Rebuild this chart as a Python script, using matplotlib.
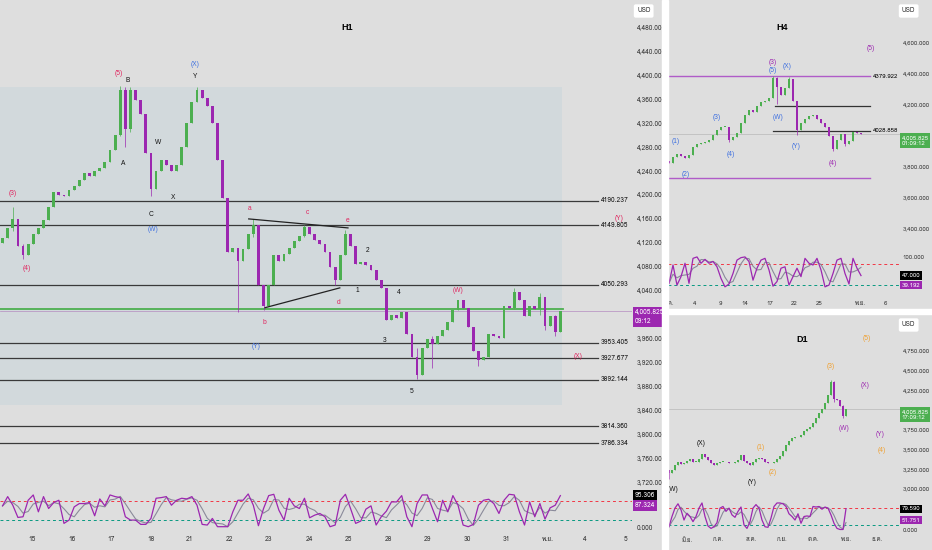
import numpy as np
import pandas as pd
import matplotlib.pyplot as plt
import matplotlib.transforms as mtransforms
from matplotlib import font_manager
from matplotlib.ft2font import FT2Font
from matplotlib.patches import Rectangle


def find_family(ch):
    # first installed family that has a glyph for ch
    for f in font_manager.fontManager.ttflist:
        try:
            if FT2Font(f.fname).get_char_index(ord(ch)):
                return f.name
        except Exception:
            pass
    return None


THAI = find_family('ก')
NARROW = ['Liberation Sans Narrow'] + ([THAI] if THAI else []) + ['DejaVu Sans']
REGULAR = ['Liberation Sans'] + ([THAI] if THAI else []) + ['DejaVu Sans']
plt.rcParams['font.family'] = NARROW

# ---------------- data ----------------
# H1 closes (open = previous close)
H1_OPEN0 = 4120
H1_CLOSE = [4128, 4145, 4160, 4115, 4100, 4118, 4135, 4145, 4158, 4180,
            4205, 4200, 4198, 4208, 4215, 4225, 4236, 4232, 4240, 4245,
            4255, 4275, 4300, 4375, 4310, 4375, 4358, 4335, 4270, 4210,
            4240, 4258, 4250, 4240, 4250, 4280, 4320, 4355, 4375, 4362,
            4348, 4320, 4258, 4195, 4105, 4112, 4090, 4110, 4135, 4150,
            4050, 4015, 4050, 4100, 4090, 4102, 4112, 4124, 4132, 4146,
            4135, 4125, 4118, 4105, 4080, 4058, 4100, 4135, 4115, 4085,
            4088, 4083, 4075, 4058, 4045, 3992, 4000, 3995, 4005, 3968,
            3930, 3900, 3945, 3960, 3952, 3965, 3975, 3988, 4008, 4025,
            4012, 3980, 3940, 3925, 3930, 3968, 3965, 3962, 4015, 4012,
            4038, 4025, 3998, 4015, 4010, 4030, 3982, 3998, 3972, 4006]
H1_WICKS = [(2, 4140, 4180), (4, 4093, 4118), (23, 4298, 4382), (24, 4280, 4380),
            (25, 4305, 4380), (29, 4198, 4270), (38, 4355, 4380), (46, 4005, 4112),
            (49, 4130, 4160), (51, 4008, 4050), (59, 4130, 4150), (65, 4050, 4080),
            (67, 4100, 4142), (81, 3893, 3945), (84, 3912, 3965), (93, 3915, 3940),
            (100, 4010, 4045), (105, 4000, 4036), (106, 3975, 4030), (108, 3965, 4000)]
H1_K = [64, 92, 66, 29, 31, 81, 97, 46, 92, 56,
        74, 81, 11, 21, 61, 71, 71, 74, 34, 85,
        64, 97, 92, 89, 31, 21, 21, 8, 8, 26,
        87, 89, 92, 66, 81, 87, 85, 92, 66, 8,
        6, 26, 1, 1, 1, 46, 81, 81, 100, 66,
        4, 56, 95, 99, 51, 21, 87, 64, 56, 87,
        28, 36, 41, 31, 1, 6, 81, 99, 56, 11,
        18, 54, 64, 6, 31, 48, 76, 76, 95, 31,
        1, 71, 97, 97, 56, 16, 81, 46, 95, 66,
        6, 1, 8, 66, 81, 84, 71, 41, 81, 99,
        97, 46, 6, 76, 31, 71, 24, 58, 66, 95]
H1_DAY_POS = [5.76, 13.57, 21.19, 29.0, 36.6, 44.4, 52.05, 59.9, 67.7,
              75.5, 83.1, 90.9, 98.5, 106.5, 113.8, 121.8]
H1_DAY_LBL = ['15', '16', '17', '18', '21', '22', '23', '24', '25',
              '28', '29', '30', '31', 'พ.ย.', '4', '5']
H1_PRICE_TICKS = [3720, 3760, 3800, 3840, 3880, 3920, 3960, 4040, 4080, 4120,
                  4160, 4200, 4240, 4280, 4320, 4360, 4400, 4440, 4480]
H1_LEVELS = [4190.237, 4149.805, 4050.293, 3953.405, 3927.677, 3892.144, 3814.360, 3786.334]
H1_WAVES = [(1.9, 4202, '(3)', 'r'), (4.7, 4077, '(4)', 'r'), (22.8, 4403, '(5)', 'r'),
            (24.5, 4390, 'B', 'k'), (23.5, 4253, 'A', 'k'), (30.4, 4287, 'W', 'k'),
            (29.0, 4168, 'C', 'k'), (29.4, 4143, '(W)', 'b'), (33.3, 4195, 'X', 'k'),
            (37.6, 4398, 'Y', 'k'), (37.6, 4418, '(X)', 'b'), (48.3, 4178, 'a', 'r'),
            (51.1, 3987, 'b', 'r'), (59.5, 4170, 'c', 'r'), (65.7, 4020, 'd', 'r'),
            (67.5, 4157, 'e', 'r'), (71.4, 4107, '2', 'k'), (69.4, 4040, '1', 'k'),
            (77.4, 4037, '4', 'k'), (74.7, 3958, '3', 'k'), (80.0, 3873, '5', 'k'),
            (49.5, 3947, '(Y)', 'b'), (89.0, 4040, '(W)', 'r'), (112.4, 3930, '(X)', 'r'),
            (120.4, 4160, '(Y)', 'r')]

# H4
H4_OPEN0 = 3830
H4_CLOSE = [3817, 3860, 3875, 3862, 3852, 3870, 3925, 3940, 3946, 3955,
            3965, 4000, 4030, 4050, 4054, 3968, 3985, 4010, 4080, 4130,
            4160, 4151, 4185, 4210, 4220, 4240, 4370, 4310, 4255, 4300,
            4362, 4220, 4030, 4080, 4105, 4120, 4128, 4100, 4080, 4050,
            3995, 3910, 3965, 4005, 3940, 3960, 4020, 4012, 4005]
H4_WICKS = [(15, 3955, 4054), (26, 4240, 4382), (27, 4200, 4372), (30, 4300, 4375),
            (32, 4000, 4220), (41, 3895, 3995), (44, 3930, 4005)]
H4_K = [25, 77, 20, 44, 82, 25, 96, 100, 82, 93,
        82, 87, 72, 39, 15, 23, 53, 91, 98, 100,
        87, 34, 68, 91, 96, 63, 17, 30, 68, 72,
        20, 44, 68, 44, 96, 82, 77, 96, 63, 15,
        20, 53, 91, 96, 53, 23, 96, 68, 47]
H4_DAY_POS = [-0.25, 6.5, 12.75, 19.0, 25.25, 31.25, 37.5, 47.75, 54.0]
H4_DAY_LBL = ['ต.ค.', '4', '9', '14', '17', '22', '25', 'พ.ย.', '6']
H4_WAVES = [(1.75, 3961, '(1)', 'b'), (4.25, 3742, '(2)', 'b'), (12.0, 4116, '(3)', 'b'),
            (15.5, 3871, '(4)', 'b'), (26.0, 4413, '(5)', 'b'), (29.5, 4445, '(X)', 'b'),
            (27.25, 4116, '(W)', 'b'), (31.75, 3929, '(Y)', 'b'), (26.0, 4465, '(3)', 'p'),
            (41.0, 3813, '(4)', 'p'), (50.5, 4555, '(5)', 'p')]

# D1
D1_OPEN0 = 3240
D1_CLOSE = [3193, 3235, 3298, 3340, 3311, 3327, 3352, 3370, 3340, 3340,
            3370, 3438, 3404, 3362, 3327, 3298, 3319, 3336, 3340, 3332,
            3319, 3327, 3340, 3362, 3421, 3352, 3319, 3298, 3340, 3375,
            3383, 3379, 3340, 3327, 3319, 3336, 3370, 3412, 3480, 3552,
            3602, 3637, 3650, 3658, 3675, 3725, 3755, 3785, 3827, 3890,
            3962, 4005, 4081, 4183, 4355, 4140, 4120, 4050, 3920, 4005]
D1_WICKS = [(0, 3120, 3240), (54, 4180, 4380), (55, 4100, 4360), (58, 3900, 4060)]
D1_K = [12, 50, 81, 97, 75, 37, 62, 50, 31, 50,
        81, 100, 50, 15, 6, 12, 27, 81, 87, 69,
        81, 56, 47, 69, 85, 19, 6, 31, 81, 94,
        81, 37, 12, 10, 44, 87, 100, 100, 97, 87,
        60, 50, 37, 60, 25, 50, 52, 50, 87, 85,
        87, 77, 85, 81, 56, 25, 6, 2, 2, 79]
D1_MON_POS = [6.0, 16.33, 27.33, 37.67, 48.0, 59.0, 69.33]
D1_MON_LBL = ['มิ.ย.', 'ก.ค.', 'ส.ค.', 'ก.ย.', 'ต.ค.', 'พ.ย.', 'ธ.ค.']
D1_WAVES = [(1.33, 2981, '(W)', 'k'), (10.67, 3577, '(X)', 'k'), (27.67, 3070, '(Y)', 'k'),
            (30.67, 3514, '(1)', 'o'), (34.67, 3197, '(2)', 'o'), (54.0, 4542, '(3)', 'o'),
            (66.0, 4897, '(5)', 'o'), (71.0, 3476, '(4)', 'o'), (65.33, 4301, '(X)', 'p'),
            (58.33, 3755, '(W)', 'p'), (70.33, 3679, '(Y)', 'p')]

LAST = 4005.825

# ---------------- style ----------------
BG = '#dedede'
GREEN = '#4caf50'
PURPLE = '#9c27b0'
WAVE_COL = {'r': '#e0245e', 'b': '#3d6fe0', 'k': '#111111', 'p': '#9c27b0', 'o': '#f0a030'}
FS = 4.8      # main panel axis text
FS_R = 4.4    # right-hand panels axis text

W, H = 932, 550
fig = plt.figure(figsize=(W / 100, H / 100), dpi=100)
fig.patch.set_facecolor('white')


def px_axes(x0, y0, x1, y1):
    a = fig.add_axes([x0 / W, 1 - y1 / H, (x1 - x0) / W, (y1 - y0) / H])
    a.set_facecolor('none')
    for s in a.spines.values():
        s.set_visible(False)
    return a


def ftext(x, y, s, **kw):
    return fig.text(x / W, 1 - y / H, s, **kw)


def panel_bg(x0, y0, x1, y1):
    fig.add_artist(Rectangle((x0 / W, 1 - y1 / H), (x1 - x0) / W, (y1 - y0) / H,
                             transform=fig.transFigure, color=BG, zorder=0))


def draw_candles(ax, closes, open0, wicks, width):
    c = np.array(closes, float)
    o = np.r_[open0, c[:-1]]
    x = np.arange(len(c))
    cols = np.where(c >= o, GREEN, PURPLE)
    lo = np.minimum(o, c)
    hi = np.maximum(o, c)
    wl, wh = lo.copy(), hi.copy()
    for i, l, h in wicks:
        wl[i] = min(wl[i], l)
        wh[i] = max(wh[i], h)
    ax.vlines(x, wl, wh, colors=cols, lw=0.5, zorder=3)
    span = ax.get_ylim()[1] - ax.get_ylim()[0]
    ax.bar(x, np.maximum(hi - lo, span * 0.003), bottom=lo, width=width,
           color=cols, lw=0, zorder=3)


def price_axis(ax, ticks, fs, pad):
    ax.yaxis.tick_right()
    ax.set_yticks(ticks)
    ax.set_yticklabels([f'{t:,.3f}' for t in ticks])
    ax.tick_params(axis='y', length=0, labelsize=fs, pad=pad, colors='#333333')
    ax.set_xticks([])


def axis_tag(ax, y, s, fc, fs, dx=2.5):
    tr = mtransforms.blended_transform_factory(ax.transAxes, ax.transData)
    x = 1 + dx / (ax.get_position().width * W)
    ax.text(x, y, s, transform=tr, ha='left', va='center', fontsize=fs, color='white',
            linespacing=1.35, clip_on=False, zorder=20,
            bbox=dict(boxstyle='square,pad=0.3', fc=fc, ec='none'))


def osc(ax, k, xlim, ylim, ticks, fs, pad):
    k = np.clip(np.array(k, float), 0, 100)
    d = pd.Series(k).rolling(3, min_periods=1).mean().to_numpy()
    x = np.arange(len(k))
    ax.set_xlim(*xlim)
    ax.set_ylim(*ylim)
    ax.axhline(80, color='#f23645', lw=0.7, ls=(0, (3, 3)))
    ax.axhline(20, color='#089981', lw=0.7, ls=(0, (3, 3)))
    ax.plot(x, d, color='#8a8a9a', lw=0.8)
    ax.plot(x, k, color=PURPLE, lw=0.9)
    ax.yaxis.tick_right()
    ax.set_yticks(ticks)
    ax.set_yticklabels([f'{t:.3f}' for t in ticks])
    ax.tick_params(axis='y', length=0, labelsize=fs, pad=pad, colors='#333333')


def waves(ax, items):
    for x, y, s, c in items:
        ax.text(x, y, s, color=WAVE_COL[c], fontsize=4.8, ha='center', va='center',
                family=REGULAR, zorder=6)


def usd_box(x, y):
    ftext(x, y, 'USD', fontsize=4.6, color='#333333', ha='left', va='center', zorder=30,
          bbox=dict(boxstyle='round,pad=0.5,rounding_size=0.3', fc='white', ec='none'))


panel_bg(0, 0, 662, 550)
panel_bg(668, 0, 932, 309)
panel_bg(668, 314, 932, 550)

# ---------------- H1 ----------------
ax1 = px_axes(0, 0, 632, 490)
ax1.set_xlim(-0.5, 123.0)
ax1.set_ylim(3708, 4525)
price_axis(ax1, H1_PRICE_TICKS, FS, 3.5)
ax1.add_patch(Rectangle((-0.5, 3850), 109.8, 530, color='#d2d9dc', lw=0, zorder=1))
for lv in H1_LEVELS:
    ax1.plot([-0.5, 116.3], [lv, lv], color='#3a3a3a', lw=0.9, zorder=2)
    ax1.text(116.9, lv, f'{lv:.3f}', fontsize=FS, ha='left', va='center', color='#111111')
ax1.plot([-0.5, 109.6], [4010, 4010], color=GREEN, lw=1.3, zorder=2)
ax1.axhline(LAST, color='#b58cc0', lw=0.5, zorder=2)
ax1.plot([48.1, 67.5], [4160, 4145], color='#222222', lw=0.9, zorder=4)
ax1.plot([51.3, 65.9], [4012, 4045], color='#222222', lw=0.9, zorder=4)
draw_candles(ax1, H1_CLOSE, H1_OPEN0, H1_WICKS, 0.55)
waves(ax1, H1_WAVES)
axis_tag(ax1, 3997, '4,005.825\n09:12', PURPLE, FS, dx=3)

o1 = px_axes(0, 490, 632, 530)
osc(o1, H1_K, (-0.5, 123.0), (-9, 112), [0], FS, 3.5)
o1.set_xticks(H1_DAY_POS)
o1.set_xticklabels(H1_DAY_LBL)
o1.tick_params(axis='x', length=0, labelsize=FS, pad=4, colors='#333333')
axis_tag(o1, 94, '95.306', 'black', FS, dx=3)
axis_tag(o1, 64, '87.324', PURPLE, FS, dx=3)
ftext(347, 28, 'H1', fontsize=6.5, fontweight='bold', ha='center', va='center', family=REGULAR)
usd_box(637, 11)

# ---------------- H4 ----------------
ax2 = px_axes(668, 0, 900, 250)
ax2.set_xlim(-0.25, 57.75)
ax2.set_ylim(3258, 4871)
price_axis(ax2, [3400, 3600, 3800, 4200, 4400, 4600], FS_R, 2)
ax2.axhline(LAST, color='#b8b8b8', lw=0.5, zorder=2)
ax2.plot([-0.25, 50.25], [4379.922, 4379.922], color='#b05cc8', lw=1.0, zorder=2)
ax2.plot([-0.25, 50.25], [3723, 3723], color='#b05cc8', lw=1.0, zorder=2)
ax2.plot([26.5, 50.25], [4187, 4187], color='#333333', lw=0.9, zorder=2)
ax2.plot([26.0, 50.25], [4028.858, 4028.858], color='#333333', lw=0.9, zorder=2)
ax2.text(50.9, 4379.922, '4379.922', fontsize=FS_R, ha='left', va='center')
ax2.text(50.9, 4028.858, '4028.858', fontsize=FS_R, ha='left', va='center')
draw_candles(ax2, H4_CLOSE, H4_OPEN0, H4_WICKS, 0.6)
waves(ax2, H4_WAVES)
axis_tag(ax2, 3965, '4,005.825\n01:09:12', GREEN, FS_R, dx=1.5)

o2 = px_axes(668, 252, 900, 296)
osc(o2, H4_K, (-0.25, 57.75), (-11, 114), [100], FS_R, 2)
o2.set_xticks([])
for p, lb in zip(H4_DAY_POS, H4_DAY_LBL):
    o2.text(p, -31, lb, fontsize=FS_R, ha='center', va='center', color='#333333', clip_on=False)
axis_tag(o2, 48, '47.000', 'black', FS_R, dx=1.5)
axis_tag(o2, 20, '39.192', PURPLE, FS_R, dx=1.5)
ftext(782, 28, 'H4', fontsize=6.5, fontweight='bold', ha='center', va='center', family=REGULAR)
usd_box(902, 11)

# ---------------- D1 ----------------
ax3 = px_axes(668, 314, 900, 497)
ax3.set_xlim(-0.33, 77)
ax3.set_ylim(2892, 5214)
price_axis(ax3, [3000, 3250, 3500, 3750, 4250, 4500, 4750], FS_R, 2)
ax3.axhline(LAST, color='#b8b8b8', lw=0.5, zorder=2)
draw_candles(ax3, D1_CLOSE, D1_OPEN0, D1_WICKS, 0.6)
waves(ax3, D1_WAVES)
axis_tag(ax3, 3935, '4,005.825\n17:09:12', GREEN, FS_R, dx=1.5)

o3 = px_axes(668, 500, 900, 533)
osc(o3, D1_K, (-0.33, 77), (-11, 111), [0], FS_R, 2)
o3.set_xticks(D1_MON_POS)
o3.set_xticklabels(D1_MON_LBL)
o3.tick_params(axis='x', length=0, labelsize=FS_R, pad=3, colors='#333333')
axis_tag(o3, 78, '79.590', 'black', FS_R, dx=1.5)
axis_tag(o3, 37, '51.751', PURPLE, FS_R, dx=1.5)
ftext(802, 339, 'D1', fontsize=6.5, fontweight='bold', ha='center', va='center', family=REGULAR)
usd_box(902, 325)

# separators
fig.add_artist(Rectangle((662 / W, 0), 6 / W, 1, transform=fig.transFigure,
                         color='white', zorder=50))
fig.add_artist(Rectangle((668 / W, 1 - 314 / H), 264 / W, 5 / H, transform=fig.transFigure,
                         color='white', zorder=50))

fig.savefig('out.png', dpi=100, facecolor=fig.get_facecolor())
